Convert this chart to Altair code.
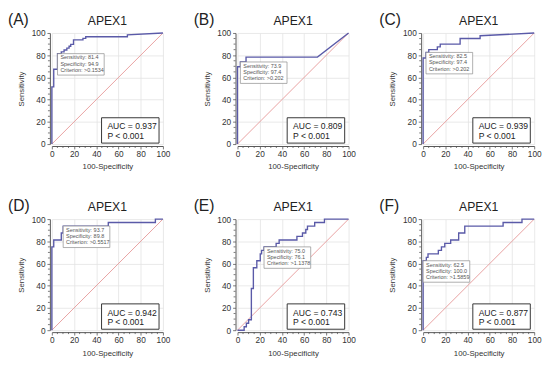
import altair as alt
import pandas as pd

FONT = "Liberation Sans"
W = 114
H = 114

# ---------------- data ----------------
labels = ["(A)", "(B)", "(C)", "(D)", "(E)", "(F)"]
gene = ["APEX1", "APEX1", "APEX1", "APEX1", "APEX1", "APEX1"]
auc = ["0.937", "0.809", "0.939", "0.942", "0.743", "0.877"]
pvals = ["P < 0.001", "P < 0.001", "P < 0.001", "P < 0.001", "P < 0.001", "P < 0.001"]
sens = [81.4, 73.9, 82.5, 93.7, 75.0, 62.5]
spec = [94.9, 97.4, 97.4, 89.8, 76.1, 100.0]
crit = [">0.1534", ">0.202", ">0.202", ">0.5517", ">1.1378", ">1.5859"]

a_x = [0, 0, 1.7, 1.7, 5.1, 5.1, 8.5, 8.5, 11.0, 11.0, 13.5, 13.5, 15.5, 15.5, 17.0, 17.0, 19.5, 19.5, 28.0, 28.0, 30.5, 30.5, 68.0, 68.0, 100]
a_y = [0, 51.5, 51.5, 67.4, 67.4, 81.4, 81.4, 83.0, 83.0, 84.7, 84.7, 86.4, 86.4, 88.1, 88.1, 89.8, 89.8, 93.8, 93.8, 95.2, 95.2, 96.6, 96.6, 98.3, 100]

b_x = [0, 0, 2.6, 2.6, 7.7, 7.7, 72.0, 100]
b_y = [0, 69.6, 69.6, 73.9, 73.9, 78.3, 78.3, 100]

c_x = [0, 0, 2.6, 2.6, 5.1, 5.1, 12.8, 12.8, 15.4, 15.4, 33.3, 33.3, 51.3, 51.3, 100]
c_y = [0, 77.5, 77.5, 82.5, 82.5, 85.0, 85.0, 87.5, 87.5, 90.0, 90.0, 95.0, 95.0, 97.5, 100]

d_x = [0, 0, 1.7, 1.7, 8.5, 8.5, 10.2, 10.2, 50.8, 50.8, 93.2, 93.2, 100]
d_y = [0, 75.0, 75.0, 81.2, 81.2, 87.5, 87.5, 93.7, 93.7, 96.9, 96.9, 100, 100]

e_x = [0, 6.0, 6.0, 8.0, 8.0, 10.0, 10.0, 12.5, 12.5, 14.3, 14.3, 17.4, 17.4, 20.5, 20.5, 21.7, 21.7, 23.9, 23.9,
       34.8, 34.8, 37.5, 37.5, 53.5, 53.5, 58.5, 58.5, 61.5, 61.5, 63.0, 63.0, 69.5, 69.5, 78.3, 78.3, 100]
e_y = [0, 0, 3.1, 3.1, 6.2, 6.2, 9.4, 9.4, 37.5, 37.5, 56.2, 56.2, 62.5, 62.5, 68.7, 68.7, 71.9, 71.9, 75.0,
       75.0, 78.1, 78.1, 81.2, 81.2, 84.4, 84.4, 87.5, 87.5, 90.6, 90.6, 93.7, 93.7, 96.9, 96.9, 100, 100]

f_x = [0, 0, 2.9, 2.9, 4.4, 4.4, 13.7, 13.7, 16.5, 16.5, 19.5, 19.5, 24.8, 24.8, 32.0, 32.0, 37.5, 37.5, 72.0, 72.0, 89.0, 89.0, 100]
f_y = [0, 62.5, 62.5, 65.6, 65.6, 68.7, 68.7, 71.9, 71.9, 75.0, 75.0, 78.1, 78.1, 81.2, 81.2, 87.5, 87.5, 93.7, 93.7, 96.9, 96.9, 100, 100]

curves_x = [a_x, b_x, c_x, d_x, e_x, f_x]
curves_y = [a_y, b_y, c_y, d_y, e_y, f_y]

diag_x = [0, 100]
diag_y = [0, 100]
major_ticks = [0, 20, 40, 60, 80, 100]
minor_ticks = [5, 10, 15, 25, 30, 35, 45, 50, 55, 65, 70, 75, 85, 90, 95]

# ---------------- styles ----------------
CURVE = "#5a5aa8"
DIAG = "#e8a0a0"
AXC = "#555555"
TXT = "#333333"
BOX_W = 42      # data units
BOX_H = 19.3    # data units

xscale = alt.Scale(domain=[0, 100], nice=False, zero=False)
yscale = alt.Scale(domain=[0, 100], nice=False, zero=False)

xaxis = alt.Axis(values=major_ticks, title="100-Specificity", grid=True, offset=2,
                 tickSize=3, labelPadding=1, titlePadding=5, format="d",
                 labelOverlap=False, labelFlush=False, labelBound=False)
yaxis = alt.Axis(values=major_ticks, title="Sensitivity", grid=True, offset=2,
                 tickSize=3, labelPadding=2, titlePadding=6, format="d",
                 labelOverlap=False, labelFlush=False, labelBound=False)


def panel(i):
    curve = pd.DataFrame({"fpr": curves_x[i], "tpr": curves_y[i], "ord": list(range(len(curves_x[i])))})
    diag = pd.DataFrame({"fpr": diag_x, "tpr": diag_y})
    minor = pd.DataFrame({"v": minor_ticks})
    info = pd.DataFrame({
        "label": [labels[i]], "gene": [gene[i]],
        "auc": ["AUC = " + auc[i]], "p": [pvals[i]],
        "bx": [100 - spec[i]], "by": [sens[i]],
        "txt": ["Sensitivity: %.1f\nSpecificity: %.1f\nCriterion: %s" % (sens[i], spec[i], crit[i])],
    })

    X = lambda f: alt.X(f, scale=xscale, axis=xaxis)
    Y = lambda f: alt.Y(f, scale=yscale, axis=yaxis)

    diag_l = alt.Chart(diag).mark_line(color=DIAG, strokeWidth=1).encode(
        x=X("fpr:Q"), y=Y("tpr:Q"),
    )
    curve_l = alt.Chart(curve).mark_line(color=CURVE, strokeWidth=1.4).encode(
        x=X("fpr:Q"), y=Y("tpr:Q"), order="ord:Q"
    )
    minor_x = alt.Chart(minor).mark_rule(color=AXC, strokeWidth=0.8).encode(
        x=X("v:Q"), y=alt.value(H + 2), y2=alt.value(H + 4)
    )
    minor_y = alt.Chart(minor).mark_rule(color=AXC, strokeWidth=0.8).encode(
        y=Y("v:Q"), x=alt.value(-2), x2=alt.value(-4)
    )
    base = alt.Chart(info)
    sbox = base.transform_calculate(
        bx2="datum.bx + %f" % BOX_W, by2="datum.by - %f" % BOX_H
    ).mark_rect(fill="white", stroke="#8a8a8a", strokeWidth=0.7).encode(
        x=X("bx:Q"), x2="bx2:Q", y=Y("by:Q"), y2="by2:Q"
    )
    stext = base.mark_text(align="left", baseline="top", fontSize=5.6, font=FONT, color="#555555",
                           lineBreak="\n", lineHeight=6.3, dx=3, dy=2).encode(
        x=X("bx:Q"), y=Y("by:Q"), text="txt:N"
    )
    abox = base.mark_rect(fill="white", stroke="#333333", strokeWidth=1).encode(
        x=alt.value(51), x2=alt.value(110), y=alt.value(87), y2=alt.value(113)
    )
    atext1 = base.mark_text(align="left", baseline="alphabetic", fontSize=8.8, font=FONT, color="#222222").encode(
        x=alt.value(57), y=alt.value(99), text="auc:N"
    )
    atext2 = base.mark_text(align="left", baseline="alphabetic", fontSize=8.8, font=FONT, color="#222222").encode(
        x=alt.value(57), y=alt.value(108.5), text="p:N"
    )
    lab = base.mark_text(align="left", baseline="alphabetic", fontSize=16, font=FONT, color="#222222").encode(
        x=alt.value(-45), y=alt.value(-8), text="label:N"
    )
    ttl = base.mark_text(align="center", baseline="alphabetic", fontSize=12.5, font=FONT, color="#222222").encode(
        x=alt.value(W / 2), y=alt.value(-8), text="gene:N"
    )
    return alt.layer(diag_l, curve_l, minor_x, minor_y, sbox, stext, abox, atext1, atext2, lab, ttl).properties(
        width=W, height=H
    )


chart = alt.concat(*[panel(i) for i in range(6)], columns=3,
                   spacing=alt.RowColnumber(row=28, column=23.5)).properties(
    padding={"left": 0, "top": 0, "right": 0, "bottom": 0},
    background="white",
).configure_view(stroke=None).configure_axis(
    labelFont=FONT, labelFontSize=8.5, labelColor=TXT,
    labelOverlap=False, labelFlush=False, labelBound=False,
    titleFont=FONT, titleFontSize=8, titleFontWeight="normal", titleColor=TXT,
    domainColor=AXC, domainWidth=1, tickColor=AXC, tickWidth=0.8,
    gridColor="#e3e3e3", gridWidth=0.8,
)

chart.save("out.html", embed_options={"renderer": "svg", "actions": False})
